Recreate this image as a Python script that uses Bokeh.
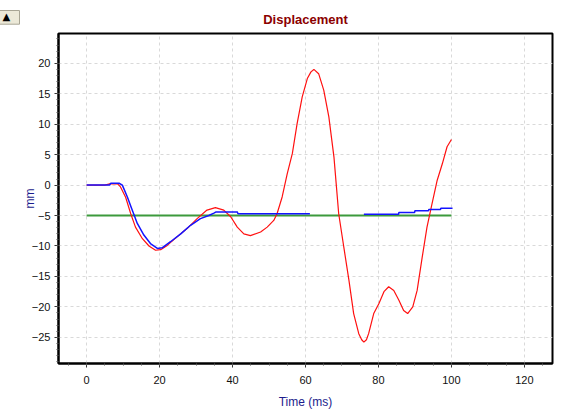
import math
from bokeh.plotting import figure
from bokeh.models import FixedTicker, Title
from bokeh.embed import file_html
from bokeh.resources import INLINE

# ---- data ----
x_ticks = [0, 20, 40, 60, 80, 100, 120]
y_ticks = [-25, -20, -15, -10, -5, 0, 5, 10, 15, 20]

red_x = [0, 5, 6.6, 8.5, 9.3, 10.7, 12.1, 13.4, 15.3, 17.1, 18.9, 20.3, 22.1, 24.8, 27.6,
         30.3, 33.0, 35.3, 37.6, 39.5, 41.3, 43.1, 44.9, 47.7, 49.5, 51.3, 52.2, 53.6, 55.0,
         56.4, 57.7, 59.1, 60.5, 61.5, 62.3, 63.6, 65.0, 66.4, 67.8, 69.1, 70.5, 71.9, 73.2, 74.6,
         75.4, 76.0, 76.7, 77.3, 78.7, 80.1, 81.5, 82.8, 84.2, 85.6, 86.9, 88.0, 89.4, 90.6, 92.0, 93.3,
         94.7, 96.1, 97.5, 98.8, 100.0]
red_y = [0, 0, 0.25, 0.2, -0.3, -2.0, -4.7, -6.9, -8.8, -10.0, -10.7, -10.6, -9.9, -8.5, -7.1,
         -5.5, -4.1, -3.7, -4.1, -5.2, -6.9, -8.0, -8.3, -7.7, -6.9, -5.8, -4.7, -1.95, 1.9,
         5.2, 10.1, 14.5, 17.5, 18.6, 19.0, 18.3, 15.6, 11.2, 4.6, -4.7, -10.2, -15.6, -21.1, -24.4,
         -25.4, -25.8, -25.4, -24.4, -21.1, -19.5, -17.5, -16.7, -17.3, -18.9, -20.6, -21.1, -20.0, -17.3, -11.8, -6.9,
         -3.0, 0.8, 3.5, 6.3, 7.5]

blue_x = [0, 6.3, 6.6, 8.9, 9.8, 11.2, 12.5, 13.9, 15.7, 17.5, 19.4, 20.7, 23.0, 25.8, 28.5,
          31.2, 33.5, 34.9, 35.5, 41.3, 41.5, 61.2, 68.0,
          76.0, 85.5, 85.6, 89.9, 90.0, 93.7, 93.8, 97.0, 97.1, 100.3]
blue_y = [0, 0, 0.3, 0.3, 0, -2.0, -4.1, -6.3, -8.2, -9.6, -10.4, -10.3, -9.3, -8.0, -6.6,
          -5.5, -5.0, -4.6, -4.4, -4.4, -4.7, -4.7, float("nan"),
          -4.8, -4.8, -4.5, -4.5, -4.2, -4.2, -4.0, -4.0, -3.8, -3.8]

green_x = [0, 100]
green_y = [-5, -5]

FONT = "Liberation Sans"

p = figure(width=568, height=418, output_backend="svg", toolbar_location=None,
           x_range=(-7.7, 127.7), y_range=(-29.3, 24.9),
           min_border_left=58, min_border_right=16, min_border_top=33, min_border_bottom=55,
           background_fill_color="white", border_fill_color="white")

p.title.text = "Displacement"
p.title.text_color = "#8b0000"
p.title.text_font = FONT
p.title.text_font_size = "13px"
p.title.text_font_style = "bold"
p.title.align = "center"
p.title.vertical_align = "top"
p.title.offset = -17
p.title.standoff = 10

p.outline_line_color = "black"
p.outline_line_width = 2

p.xaxis.ticker = FixedTicker(ticks=x_ticks, minor_ticks=list(range(-5, 130, 5)))
p.yaxis.ticker = FixedTicker(ticks=y_ticks, minor_ticks=list(range(-29, 25, 1)))

for ax in (p.xaxis[0], p.yaxis[0]):
    ax.axis_line_color = "black"
    ax.axis_line_width = 2
    ax.major_tick_in = 0
    ax.major_tick_out = 4
    ax.minor_tick_in = 0
    ax.minor_tick_out = 2
    ax.major_tick_line_color = "#333333"
    ax.minor_tick_line_color = "#555555"
    ax.major_label_text_font = FONT
    ax.major_label_text_font_size = "11px"
    ax.major_label_text_color = "#111111"
    ax.axis_label_text_font = FONT
    ax.axis_label_text_font_size = "12px"
    ax.axis_label_text_font_style = "normal"
    ax.axis_label_text_color = "#1c1c8c"

p.xaxis.axis_label = "Time (ms)"
p.yaxis.axis_label = "mm"
p.xaxis.major_label_standoff = 8
p.xaxis.axis_label_standoff = 8
p.yaxis.major_label_standoff = 4
p.yaxis.axis_label_standoff = -8

p.grid.grid_line_color = "#d9d9d9"
p.grid.grid_line_dash = "3 3"
p.grid.grid_line_width = 1

p.line(green_x, green_y, line_color="#3c9a3c", line_width=2)
p.line(red_x, red_y, line_color="#ff1010", line_width=1.2)
p.line(blue_x, blue_y, line_color="#1414ff", line_width=1.5)

# collapse button (top-left), as a rotated side-panel title
btn = Title(text="▶", align="right", offset=-23, standoff=0,
            text_font="DejaVu Sans", text_font_size="10px", text_color="black",
            background_fill_color="#ece9d8", border_line_color="#a8a594",
            padding=(3, 9))
p.add_layout(btn, "left")

open("out.html", "w").write(file_html(p, INLINE))
